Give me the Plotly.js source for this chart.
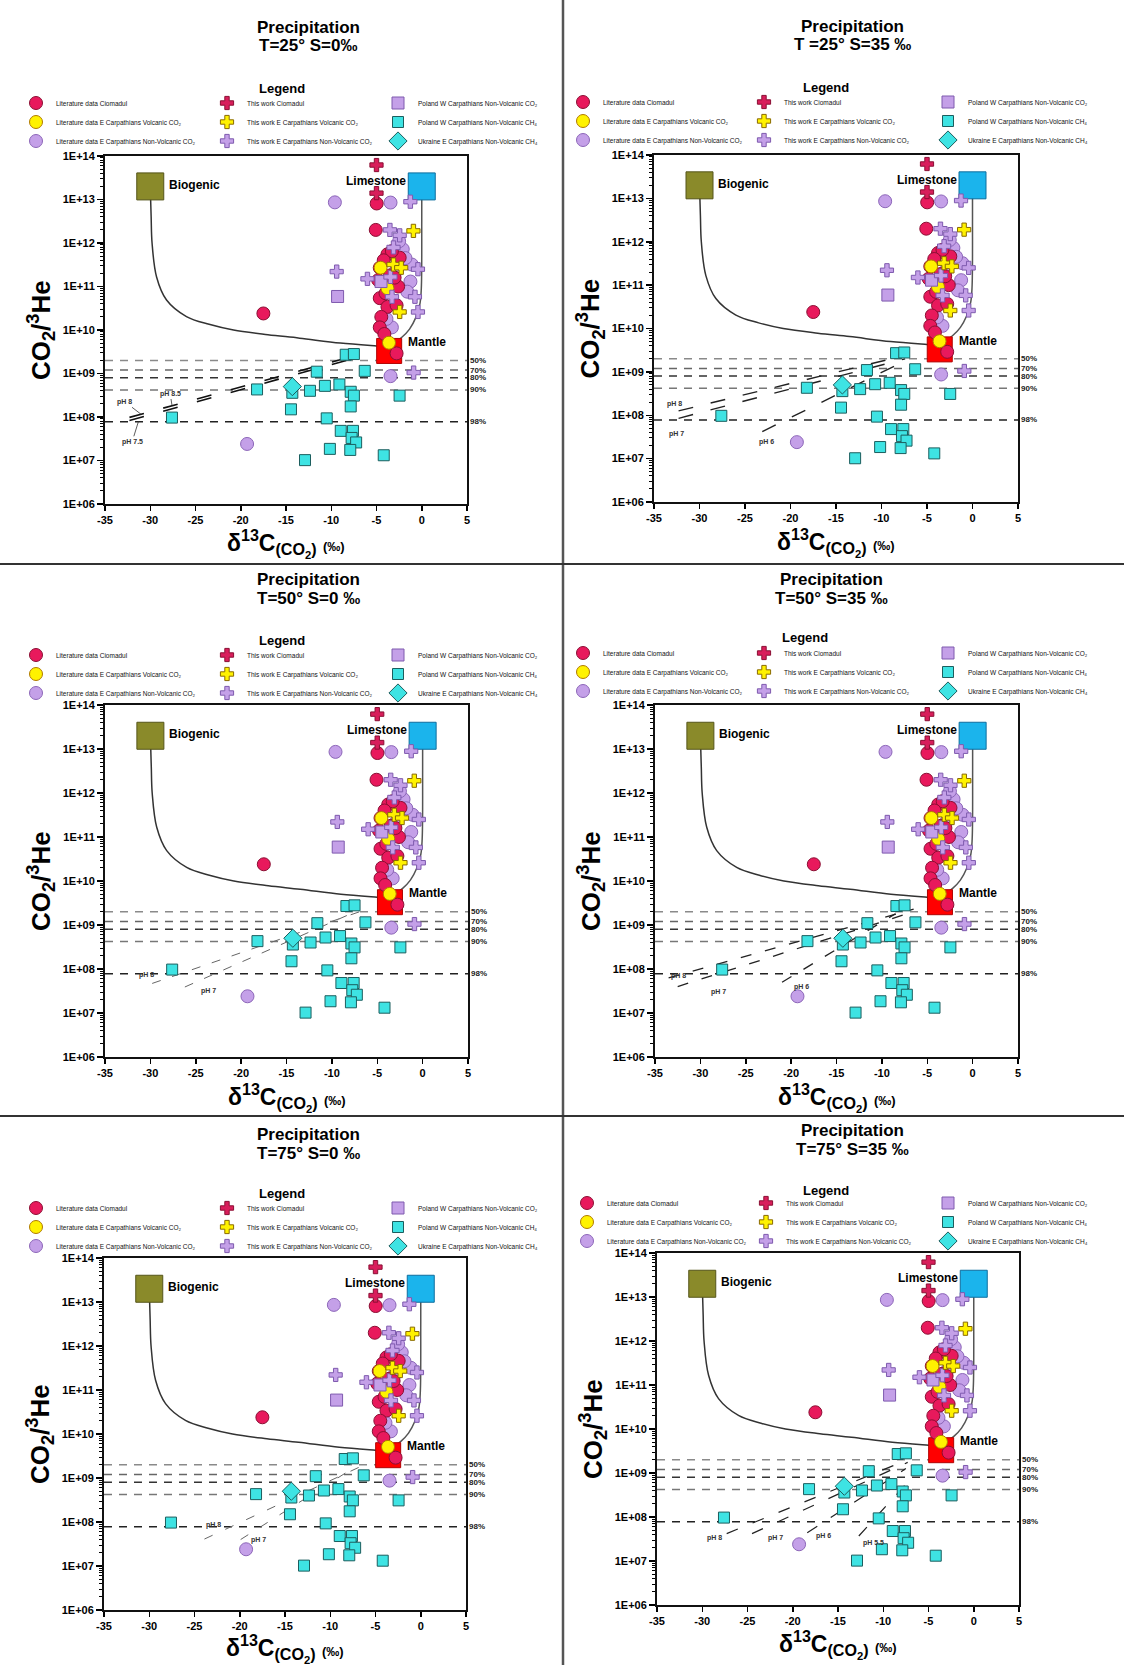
<!DOCTYPE html>
<html><head><meta charset="utf-8">
<script src="https://cdn.plot.ly/plotly-3.0.1.min.js"></script>
<style>html,body{margin:0;padding:0;background:#fff}#chart{width:1124px;height:1665px}</style>
</head><body><div id="chart"></div>
<script>
// ---------------- DATA ----------------
const panelTitles = ['T=25° S=0‰', 'T =25° S=35 ‰', 'T=50° S=0 ‰', 'T=50° S=35 ‰', 'T=75° S=0 ‰', 'T=75° S=35 ‰'];
const xRange = [-35, 5];
const xTickVals = [-35, -30, -25, -20, -15, -10, -5, 0, 5];
const xTickText = ['-35', '-30', '-25', '-20', '-15', '-10', '-5', '0', '5'];
const yTickVals = [1e6, 1e7, 1e8, 1e9, 1e10, 1e11, 1e12, 1e13, 1e14];
const yTickText = ['1E+06', '1E+07', '1E+08', '1E+09', '1E+10', '1E+11', '1E+12', '1E+13', '1E+14'];

// end-members
const endNames = ['Biogenic', 'Limestone', 'Mantle'];
const endX = [-30, 0, -3.6];
const endY = [2e13, 2e13, 3.3e9];

// mixing curves
const bioCurveX = [-30, -29.9, -29.8, -29.3, -28.2, -26, -23.5, -20.8, -17, -13.5, -9, -5.0, -4.3];
const bioCurveY = [2e13, 4e12, 1e12, 1.66e11, 4.9e10, 2.04e10, 1.35e10, 1.0e10, 7.8e9, 6.5e9, 5.0e9, 4.3e9, 4.2e9];
const limeCurveX = [0, 0, -0.05, -0.2, -0.65, -1.35, -2.2, -2.8];
const limeCurveY = [2e13, 3.2e12, 8.9e10, 4e10, 1.95e10, 1.05e10, 6.8e9, 5.5e9];

// precipitation percentage levels
const pctLabels = ['50%', '70%', '80%', '90%', '98%'];
const pctY = [2.0e9, 1.2e9, 8.0e8, 4.2e8, 7.8e7];

// sample series
const litCiomX = [-17.5, -4.98, -5.08, -3.79, -2.44, -4.64, -4.81, -2.61, -4.64, -3.79, -2.78, -4.47, -4.64, -4.13, -2.78, -3.3, -4.2, -3.5, -3.0, -4.0];
const litCiomY = [2.4e10, 8.1e12, 2.0e12, 5.5e11, 4.6e11, 2.7e11, 1.4e11, 1.0e11, 5.4e10, 3.4e10, 3.7e10, 2.0e10, 1.15e10, 8.1e9, 2.9e9, 6.5e11, 4.0e11, 1.8e11, 1.6e11, 7.0e10];
const litVolcX = [-4.55, -3.79, -3.62];
const litVolcY = [2.7e11, 9.1e10, 5.1e9];
const litNonVolcX = [-9.6, -3.45, -2.1, -1.1, -1.25, -1.6, -3.3, -3.45, -19.3, -2.5, -1.8, -3.9, -2.9];
const litNonVolcY = [8.6e12, 8.5e12, 7.2e11, 3.2e11, 1.3e11, 7.6e10, 1.15e10, 8.7e8, 2.4e7, 1.1e12, 4.5e11, 1.8e10, 2.2e11];
const twCiomX = [-5.0, -5.0];
const twCiomY = [6.2e13, 1.4e13];
const twVolcX = [-0.92, -3.12, -2.27, -2.44];
const twVolcY = [1.9e12, 3.2e11, 2.7e11, 2.6e10];
const twNonVolcX = [-9.4, -6.0, -1.26, -3.52, -2.44, -3.12, -0.42, -3.46, -0.75, -3.29, -0.42, -0.9];
const twNonVolcY = [2.2e11, 1.5e11, 8.9e12, 2.0e12, 1.5e12, 7.9e11, 2.5e11, 1.66e11, 5.8e10, 5.8e10, 2.6e10, 1.05e9];
const polCO2X = [-9.3, -4.5];
const polCO2Y = [5.9e10, 1.3e11];
const polCH4X = [-8.4, -7.5, -11.6, -6.3, -18.2, -14.3, -12.35, -10.7, -9.1, -7.85, -7.5, -2.45, -14.45, -7.85, -27.6, -10.5, -8.95, -7.6, -7.75, -7.25, -10.15, -7.9, -12.9, -4.2];
const polCH4Y = [2.7e9, 2.8e9, 1.1e9, 1.15e9, 4.3e8, 3.6e8, 4.0e8, 5.2e8, 5.6e8, 3.8e8, 3.1e8, 3.1e8, 1.5e8, 1.75e8, 9.7e7, 9.3e7, 4.8e7, 4.8e7, 3.3e7, 2.6e7, 1.85e7, 1.75e7, 1.02e7, 1.32e7];
const ukrCH4X = [-14.3];
const ukrCH4Y = [5.0e8];

// pH precipitation lines per panel (start / end points)
const phLabels = [['pH 8', 'pH 7.5'], ['pH 8', 'pH 7', 'pH 6'], ['pH 8', 'pH 7'], ['pH 8', 'pH 7', 'pH 6'], ['pH 8', 'pH 7'], ['pH 8', 'pH 7', 'pH 6', 'pH 5.5']];
const phX0 = [[-32.3, -32.3], [-32.3, -32.3, -23.1], [-29.8, -26.2], [-33.5, -32.5, -21], [-23.9, -19.9], [-27.3, -24.5, -18.4, -12.7]];
const phY0 = [[9.8e7, 8.3e7], [1.26e8, 8.5e7, 4.2e7], [4.7e7, 3.9e7], [6.3e7, 4.0e7, 5.0e7], [4.1e7, 4.0e7], [4.2e7, 4.2e7, 4.4e7, 3.7e7]];
const phX1 = [[-7.6, -7.6], [-7.4, -7.4, -7.4], [-6.1, -8.3], [-6.5, -6.5, -8.5], [-6.0, -7.5], [-7.3, -7.3, -7.5, -6.6]];
const phY1 = [[2.5e9, 2.2e9], [2.4e9, 2.0e9, 1.8e9], [2.3e9, 1.66e9], [2.3e9, 2.0e9, 1.8e9], [2.1e9, 1.66e9], [2.0e9, 1.74e9, 1.26e9, 8.9e8]];

// ---------------- LAYOUT / DRAWING ----------------
const W = 1124, H = 1665;
const FONT = 'Liberation Sans, Arial, Helvetica, sans-serif';

const G = [
  {l:105, r:467, t:156, b:504, tx:308, ty1:27, ty2:46, lty:89, cols:[36,227,398], row1:103, xt:40},
  {l:654, r:1018, t:155, b:502, tx:852, ty1:26, ty2:45, lty:87, cols:[583,764,948], row1:102, xt:40},
  {l:105, r:468, t:705, b:1057, tx:308, ty1:579, ty2:598, lty:640, cols:[36,227,398], row1:655, xt:40},
  {l:655, r:1018, t:705, b:1057, tx:831, ty1:579, ty2:598, lty:638, cols:[583,764,948], row1:653, xt:40},
  {l:104, r:466, t:1258, b:1610, tx:308, ty1:1134, ty2:1153, lty:1193, cols:[36,227,398], row1:1208, xt:38},
  {l:657, r:1019, t:1253, b:1605, tx:852, ty1:1130, ty2:1149, lty:1190, cols:[587,766,948], row1:1203, xt:39}
];

const phStyle = [
  {color:'#111', width:1.6, dash:'15px,20px'},
  {color:'#222', width:1.4, dash:'15px,18px'},
  {color:'#666', width:1.0, dash:'9px,12px'},
  {color:'#222', width:1.3, dash:'11px,14px'},
  {color:'#666', width:1.0, dash:'9px,14px'},
  {color:'#222', width:1.2, dash:'12px,16px'}
];
// label positions [x, log10 y] and optional arrow tip
const phText = [
  [{x:-32.8, y:8.35, tx:-31.0, ty:8.06}, {x:-32.0, y:7.43, tx:-31.3, ty:7.90}],
  [{x:-32.7, y:8.26}, {x:-32.5, y:7.57}, {x:-22.6, y:7.39}],
  [{x:-30.4, y:7.86}, {x:-23.6, y:7.49}],
  [{x:-32.4, y:7.84}, {x:-28.0, y:7.48}, {x:-18.85, y:7.59}],
  [{x:-22.9, y:7.93}, {x:-17.9, y:7.59}],
  [{x:-28.6, y:7.53}, {x:-21.9, y:7.53}, {x:-16.6, y:7.57}, {x:-11.1, y:7.42}]
];
const pctColors = ['#8a8a8a', '#666', '#333', '#777', '#222'];

const series = [
  {name:'Poland W Carpathians Non-Volcanic CH₄', x:polCH4X, y:polCH4Y, symbol:'square', size:11, fill:'#3EE3E3', edge:'#1C5E5E', col:2, rank:2},
  {name:'Ukraine E Carpathians Non-Volcanic CH₄', x:ukrCH4X, y:ukrCH4Y, symbol:'diamond', size:14, fill:'#3EE3E3', edge:'#1C5E5E', col:2, rank:3},
  {name:'Literature data E Carpathians Non-Volcanic CO₂', x:litNonVolcX, y:litNonVolcY, symbol:'circle', size:13, fill:'#C4A0E8', edge:'#8C66B8', col:0, rank:3},
  {name:'Literature data Ciomadul', x:litCiomX, y:litCiomY, symbol:'circle', size:13, fill:'#E8195C', edge:'#8A0F33', col:0, rank:1},
  {name:'Literature data E Carpathians Volcanic CO₂', x:litVolcX, y:litVolcY, symbol:'circle', size:13, fill:'#FFF200', edge:'#B07A00', col:0, rank:2},
  {name:'Poland W Carpathians Non-Volcanic CO₂', x:polCO2X, y:polCO2Y, symbol:'square', size:12, fill:'#C4A0E8', edge:'#7E5AAE', col:2, rank:1},
  {name:'This work E Carpathians Non-Volcanic CO₂', x:twNonVolcX, y:twNonVolcY, symbol:'cross', size:11, fill:'#C4A0E8', edge:'#7E5AAE', col:1, rank:3},
  {name:'This work E Carpathians Volcanic CO₂', x:twVolcX, y:twVolcY, symbol:'cross', size:11, fill:'#FFF200', edge:'#8A6A00', col:1, rank:2},
  {name:'This work Ciomadul', x:twCiomX, y:twCiomY, symbol:'cross', size:11, fill:'#D81E5B', edge:'#8A0F33', col:1, rank:1}
];

const data = [], annotations = [], shapes = [];
const layout = {
  width: W, height: H, margin: {l:0, r:0, t:0, b:0},
  paper_bgcolor: '#fff', plot_bgcolor: '#fff',
  font: {family: FONT, color: '#000'},
  hovermode: false, showlegend: true,
  annotations: annotations, shapes: shapes
};
const px = v => v / W, py = v => 1 - v / H;
const legName = (i, c) => { const k = i * 3 + c + 1; return k === 1 ? 'legend' : 'legend' + k; };

G.forEach((g, i) => {
  const n = i === 0 ? '' : String(i + 1);
  const xa = 'x' + n, ya = 'y' + n;
  const tickfont = {family: FONT, size: 11, weight: 'bold', color: '#000'};
  layout['xaxis' + n] = {
    domain: [px(g.l), px(g.r)], anchor: ya, range: xRange,
    tickmode: 'array', tickvals: xTickVals, ticktext: xTickText,
    ticks: 'outside', ticklen: 5, tickwidth: 1.5, tickcolor: '#000',
    showline: true, linewidth: 2, linecolor: '#111', mirror: true,
    showgrid: false, zeroline: false, tickfont: tickfont, fixedrange: true
  };
  layout['yaxis' + n] = {
    domain: [py(g.b), py(g.t)], anchor: xa, type: 'log', range: [6, 14],
    tickmode: 'array', tickvals: yTickVals, ticktext: yTickText,
    ticks: 'outside', ticklen: 6, tickwidth: 1.5, tickcolor: '#000',
    minor: {ticks: 'outside', ticklen: 3, tickwidth: 1, tickcolor: '#000', dtick: 'D1', showgrid: false},
    showline: true, linewidth: 2, linecolor: '#111', mirror: true,
    showgrid: false, zeroline: false, tickfont: tickfont, fixedrange: true
  };
  const tr = o => Object.assign({xaxis: xa, yaxis: ya, hoverinfo: 'skip', showlegend: false}, o);

  // percentage lines
  pctY.forEach((v, k) => {
    data.push(tr({x: xRange, y: [v, v], mode: 'lines', line: {color: pctColors[k], width: 1.5, dash: '8px,7px'}}));
    annotations.push({xref: xa, yref: ya, x: xRange[1], y: Math.log10(v), text: pctLabels[k], xanchor: 'left', xshift: 1,
      showarrow: false, font: {size: 8, weight: 'bold', color: '#222', family: FONT}});
  });
  // mixing curves
  data.push(tr({x: bioCurveX, y: bioCurveY, mode: 'lines', line: {color: '#333', width: 1.5, shape: 'spline'}}));
  data.push(tr({x: limeCurveX, y: limeCurveY, mode: 'lines', line: {color: '#555', width: 1.5, shape: 'spline'}}));
  // pH lines
  phLabels[i].forEach((lab, k) => {
    data.push(tr({x: [phX0[i][k], phX1[i][k]], y: [phY0[i][k], phY1[i][k]], mode: 'lines', line: phStyle[i]}));
    const t = phText[i][k];
    const a = {xref: xa, yref: ya, text: lab, font: {size: 7, weight: 'bold', color: '#333', family: FONT}};
    if (t.tx !== undefined) {
      Object.assign(a, {x: t.tx, y: t.ty, ax: t.x, ay: t.y, axref: xa, ayref: ya, showarrow: true, arrowhead: 0, arrowwidth: 0.8, arrowcolor: '#333', standoff: 0});
    } else {
      Object.assign(a, {x: t.x, y: t.y, showarrow: false});
    }
    annotations.push(a);
  });
  if (i === 0) {
    annotations.push({xref: xa, yref: ya, x: -27.6, y: 8.27, ax: -27.8, ay: 8.54, axref: xa, ayref: ya, text: 'pH 8.5',
      showarrow: true, arrowhead: 0, arrowwidth: 0.8, arrowcolor: '#333', font: {size: 7, weight: 'bold', color: '#333', family: FONT}});
  }
  // end-members
  data.push(tr({x: endX, y: endY, mode: 'markers', marker: {symbol: 'square', size: [27, 27, 25], opacity: 1,
    color: ['#8A8A2A', '#1BB4EC', '#FF0000'], line: {color: ['#55551A', '#0F6E9E', '#B00000'], width: 1}}}));
  annotations.push({xref: xa, yref: ya, x: -28.2, y: Math.log10(endY[0]) + 0.03, text: endNames[0], xanchor: 'left', showarrow: false, font: {size: 12, weight: 'bold', family: FONT}});
  annotations.push({xref: xa, yref: ya, x: -1.5, y: 13.43, text: endNames[1], xanchor: 'right', showarrow: false, font: {size: 12, weight: 'bold', family: FONT}});
  annotations.push({xref: xa, yref: ya, x: -1.7, y: 9.72, text: endNames[2], xanchor: 'left', showarrow: false, font: {size: 12, weight: 'bold', family: FONT}});

  // data series
  series.forEach(s => {
    data.push({xaxis: xa, yaxis: ya, hoverinfo: 'skip', type: 'scatter', mode: 'markers', name: s.name, x: s.x, y: s.y,
      legend: legName(i, s.col), legendrank: s.rank, showlegend: true,
      marker: {symbol: s.symbol, size: s.size, color: s.fill, opacity: 1, line: {color: s.edge, width: 1}}});
  });

  // legends (three columns)
  for (let c = 0; c < 3; c++) {
    layout[legName(i, c)] = {
      x: px(g.cols[c] - 20), xanchor: 'left', y: py(g.row1 - 14.5), yanchor: 'top',
      orientation: 'v', bgcolor: 'rgba(0,0,0,0)', borderwidth: 0, itemsizing: 'trace',
      traceorder: 'normal', tracegroupgap: 0, font: {family: FONT, size: 6.5, color: '#111'}
    };
  }

  // titles
  annotations.push({xref: 'paper', yref: 'paper', x: px(g.tx), y: py(g.ty1), text: 'Precipitation', showarrow: false,
    xanchor: 'center', yanchor: 'middle', font: {size: 17, weight: 'bold', family: FONT}});
  annotations.push({xref: 'paper', yref: 'paper', x: px(g.tx), y: py(g.ty2), text: panelTitles[i], showarrow: false,
    xanchor: 'center', yanchor: 'middle', font: {size: 17, weight: 'bold', family: FONT}});
  annotations.push({xref: 'paper', yref: 'paper', x: px(g.tx - 26), y: py(g.lty), text: 'Legend', showarrow: false,
    xanchor: 'center', yanchor: 'middle', font: {size: 13, weight: 'bold', family: FONT}});
  // axis titles
  annotations.push({xref: 'paper', yref: 'paper', x: px(g.l - 64), y: py((g.t + g.b) / 2), textangle: -90,
    text: 'CO<sub>2</sub>/<sup>3</sup>He', showarrow: false, xanchor: 'center', yanchor: 'middle',
    font: {size: 26, weight: 'bold', family: FONT}});
  annotations.push({xref: 'paper', yref: 'paper', x: px((g.l + g.r) / 2), y: py(g.b + g.xt), borderpad: 0,
    text: 'δ<sup>13</sup>C<sub>(CO<sub>2</sub>)</sub> <span style="font-size:13px">(‰)</span>', showarrow: false,
    xanchor: 'center', yanchor: 'middle', font: {size: 23, weight: 'bold', family: FONT}});
});

// panel dividers
shapes.push({type: 'line', xref: 'paper', yref: 'paper', x0: px(563), x1: px(563), y0: 0, y1: 1, line: {color: '#555', width: 2.5}});
shapes.push({type: 'line', xref: 'paper', yref: 'paper', x0: 0, x1: 1, y0: py(564), y1: py(564), line: {color: '#333', width: 2}});
shapes.push({type: 'line', xref: 'paper', yref: 'paper', x0: 0, x1: 1, y0: py(1116), y1: py(1116), line: {color: '#333', width: 2}});

Plotly.newPlot('chart', data, layout, {displayModeBar: false, staticPlot: true});
</script>
</body></html>
